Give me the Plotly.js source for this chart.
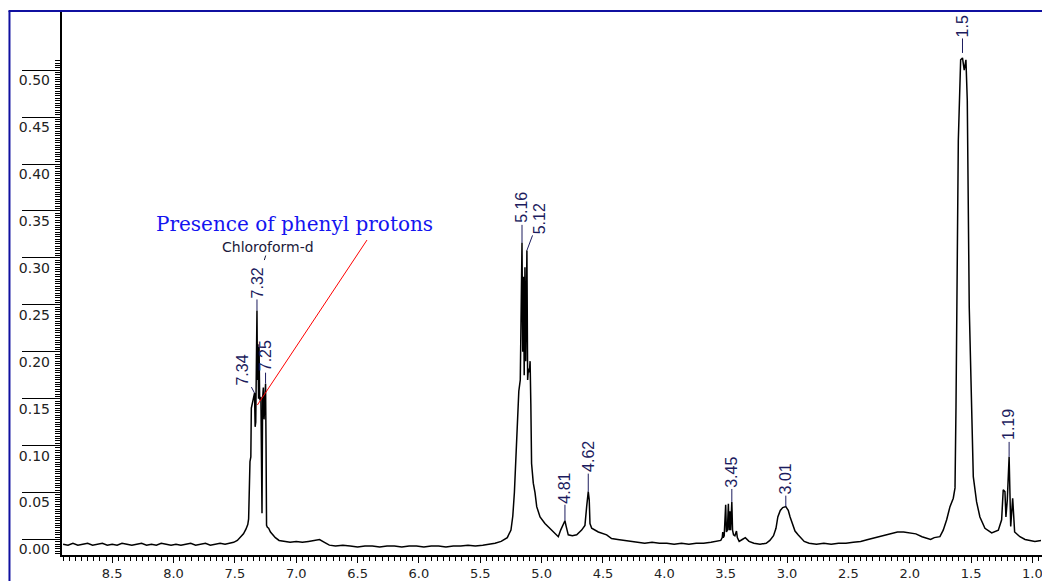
<!DOCTYPE html>
<html>
<head>
<meta charset="utf-8">
<script src="https://cdn.plot.ly/plotly-3.0.1.min.js"></script>
<style>
html,body{margin:0;padding:0;background:#fff;}
#chart{width:1042px;height:581px;}
</style>
</head>
<body>
<div id="chart"></div>
<script>
// ---- data (chemical shift in ppm, intensity) ----
const PPM = [
8.90,8.86,8.82,8.78,8.74,8.70,8.66,8.62,8.58,8.54,8.50,8.46,8.42,8.38,8.34,8.30,8.26,8.22,8.18,8.14,
8.10,8.06,8.02,7.98,7.94,7.90,7.86,7.82,7.78,7.74,7.70,7.66,7.62,7.58,7.54,7.51,7.48,7.45,7.43,7.41,
7.395,7.388,7.385,7.380,7.377,7.370,7.366,7.356,7.348,7.340,7.335,7.330,7.320,7.316,7.312,7.307,7.303,7.298,7.292,7.288,
7.284,7.279,7.274,7.268,7.262,7.250,7.246,7.242,7.235,7.225,7.21,7.19,7.17,7.14,7.10,7.05,7.00,6.95,6.90,6.85,
6.81,6.77,6.73,6.68,6.62,6.56,6.50,6.44,6.38,6.32,6.26,6.20,6.14,6.08,6.02,5.96,5.90,5.84,5.78,5.72,
5.66,5.60,5.54,5.48,5.42,5.38,5.33,5.28,5.25,5.235,5.222,5.212,5.198,5.186,5.174,5.160,5.154,5.148,5.142,5.136,
5.130,5.125,5.120,5.114,5.108,5.100,5.094,5.088,5.082,5.068,5.054,5.040,5.013,4.973,4.932,4.900,4.864,4.845,4.810,4.800,
4.783,4.750,4.714,4.674,4.647,4.633,4.620,4.612,4.606,4.592,4.538,4.470,4.430,4.38,4.33,4.28,4.22,4.16,4.10,4.04,
3.98,3.92,3.86,3.80,3.74,3.68,3.62,3.57,3.54,3.528,3.524,3.520,3.512,3.500,3.494,3.486,3.478,3.472,3.466,3.460,
3.450,3.444,3.436,3.425,3.412,3.405,3.39,3.365,3.34,3.31,3.27,3.22,3.17,3.14,3.11,3.09,3.075,3.055,3.035,3.010,
2.99,2.975,2.955,2.935,2.91,2.885,2.86,2.82,2.76,2.70,2.64,2.58,2.52,2.46,2.40,2.34,2.28,2.22,2.16,2.10,
2.05,2.00,1.95,1.90,1.86,1.83,1.80,1.754,1.727,1.699,1.672,1.645,1.631,1.623,1.604,1.585,1.570,1.556,1.542,1.531,
1.515,1.504,1.482,1.455,1.428,1.387,1.332,1.278,1.251,1.238,1.224,1.216,1.205,1.190,1.177,1.161,1.145,1.102,1.06,1.02,
0.98,0.93
];
const INTENSITY = [
-0.005,-0.006,-0.004,-0.006,-0.005,-0.004,-0.006,-0.005,-0.004,-0.006,-0.005,-0.006,-0.004,-0.005,-0.006,-0.005,-0.004,-0.006,-0.005,-0.006,
-0.004,-0.005,-0.006,-0.005,-0.006,-0.005,-0.004,-0.006,-0.005,-0.004,-0.006,-0.005,-0.004,-0.005,-0.004,-0.003,-0.001,0.003,0.006,0.011,
0.016,0.022,0.045,0.050,0.083,0.088,0.140,0.146,0.150,0.156,0.120,0.125,0.244,0.170,0.208,0.150,0.205,0.150,0.148,0.152,
0.030,0.028,0.150,0.162,0.128,0.166,0.100,0.015,0.013,0.012,0.008,0.005,0.002,-0.001,-0.002,-0.003,-0.002,-0.003,-0.002,-0.001,
0.000,-0.003,-0.006,-0.007,-0.006,-0.007,-0.008,-0.007,-0.007,-0.008,-0.007,-0.007,-0.008,-0.007,-0.007,-0.008,-0.007,-0.007,-0.008,-0.007,
-0.007,-0.006,-0.007,-0.006,-0.005,-0.004,-0.002,0.002,0.010,0.025,0.050,0.085,0.118,0.158,0.170,0.316,0.200,0.280,0.175,0.290,
0.190,0.298,0.308,0.170,0.182,0.178,0.190,0.145,0.081,0.060,0.050,0.035,0.024,0.017,0.012,0.008,0.003,0.010,0.020,0.014,
0.005,0.004,0.005,0.010,0.015,0.035,0.051,0.042,0.017,0.012,0.008,0.005,0.001,0.000,-0.001,-0.002,-0.003,-0.004,-0.003,-0.004,
-0.004,-0.005,-0.004,-0.005,-0.004,-0.004,-0.003,-0.002,-0.001,0.002,0.008,0.002,0.004,0.037,0.008,0.010,0.038,0.010,0.030,0.010,
0.040,0.010,0.005,0.004,0.009,0.002,-0.002,0.000,0.002,-0.002,-0.004,-0.005,-0.004,-0.001,0.004,0.012,0.024,0.031,0.034,0.035,
0.031,0.024,0.016,0.009,0.005,0.002,-0.002,-0.004,-0.005,-0.004,-0.005,-0.004,-0.004,-0.003,-0.002,0.000,0.002,0.004,0.006,0.008,
0.008,0.007,0.006,0.003,0.001,0.000,0.002,0.003,0.010,0.021,0.035,0.044,0.055,0.141,0.425,0.511,0.513,0.500,0.511,0.468,
0.248,0.175,0.067,0.040,0.024,0.012,0.007,0.010,0.021,0.053,0.051,0.024,0.042,0.088,0.014,0.044,0.008,0.003,0.000,-0.001,
-0.002,-0.001
];

// ---- axis ticks ----
const X_TICK_VALUES = [8.5,8.0,7.5,7.0,6.5,6.0,5.5,5.0,4.5,4.0,3.5,3.0,2.5,2.0,1.5,1.0];
const X_TICK_TEXT = ['8.5','8.0','7.5','7.0','6.5','6.0','5.5','5.0','4.5','4.0','3.5','3.0','2.5','2.0','1.5','1.0'];
const Y_TICK_VALUES = [0,0.05,0.10,0.15,0.20,0.25,0.30,0.35,0.40,0.45,0.50];
const Y_TICK_TEXT = ['0.00','0.05','0.10','0.15','0.20','0.25','0.30','0.35','0.40','0.45','0.50'];

// ---- peak labels ----
const PEAK_LABELS = ['7.34','7.32','7.25','5.16','5.12','4.81','4.62','3.45','3.01','1.19','1.5'];
const PEAK_PPM = [7.34,7.32,7.25,5.16,5.12,4.81,4.62,3.45,3.01,1.19,1.57];

// label placement (style, pixel offsets of label centre from the peak top)
const LABEL_AX = [-12,0,0,0,12,0,0,0,0,0,0];
const LABEL_AY = [-23,-28,-28,-35,-32,-33,-35,-30,-28,-32,-32];
const LABEL_STANDOFF = [0,0,0,0,0,0,0,0,0,0,5];

function heightAt(p){
  let best = 0, bd = Infinity;
  for (let i = 0; i < PPM.length; i++) {
    const d = Math.abs(PPM[i] - p);
    if (d < bd) { bd = d; best = i; }
  }
  return INTENSITY[best];
}

// minor tick marks of the intensity scale (every 0.0025, drawn up to 0.51 only)
const Y_MINOR_STEP = 0.0025;
const yMinorTicks = [];
for (let k = -6; k <= 204; k++) yMinorTicks.push(+(k * Y_MINOR_STEP).toFixed(4));

const LABEL_COLOR = '#1c1c5e';
const LABEL_FONT = {family:'"Liberation Sans Narrow","Arial Narrow","Liberation Sans",sans-serif', size:16, color:LABEL_COLOR};

const annotations = PEAK_LABELS.map((t,i)=>({
  x: PEAK_PPM[i], y: heightAt(PEAK_PPM[i]), xref:'x', yref:'y',
  text: t, textangle: -90, showarrow: true, arrowhead: 0, arrowwidth: 1,
  arrowcolor: LABEL_COLOR, ax: LABEL_AX[i], ay: LABEL_AY[i], standoff: LABEL_STANDOFF[i],
  font: LABEL_FONT, borderpad: 1
}));

annotations.push({
  x: 7.26, y: 0.2977, xref:'x', yref:'y', text:'Chloroform-d',
  showarrow:true, arrowhead:0, arrowwidth:1, arrowcolor:'#1a1a3a', ax:4, ay:-13,
  font:{family:'"DejaVu Sans",sans-serif', size:14, color:'#1a1a3a'}, borderpad:0
});
annotations.push({
  x: 7.014, y: 0.336, xref:'x', yref:'y', text:'Presence of phenyl protons',
  showarrow:false, xanchor:'center', yanchor:'middle',
  font:{family:'"DejaVu Serif","Liberation Serif",serif', size:20, color:'#1414f0'}
});

const spectrum = {
  x: PPM, y: INTENSITY, type:'scatter', mode:'lines',
  line:{color:'#000000', width:1.5}, hoverinfo:'skip', showlegend:false
};
const labelCarrier = {
  x:[X_TICK_VALUES[0]], y:[Y_TICK_VALUES[0]], yaxis:'y2', type:'scatter', mode:'markers',
  marker:{opacity:0}, hoverinfo:'skip', showlegend:false
};

const YR = [-0.0165, 0.563];
const tickFont = {family:'"DejaVu Sans",sans-serif', size:14, color:'#222222'};
const xTickFont = {family:'"DejaVu Sans",sans-serif', size:13, color:'#222222'};

const layout = {
  width:1042, height:581,
  margin:{l:62, r:0, t:11, b:26, pad:0},
  paper_bgcolor:'#ffffff', plot_bgcolor:'#ffffff',
  showlegend:false,
  xaxis:{
    range:[8.909, 0.922], showgrid:false, zeroline:false,
    showline:true, linecolor:'#000', linewidth:2,
    tickmode:'array', tickvals:X_TICK_VALUES, ticktext:X_TICK_TEXT,
    ticks:'outside', ticklen:6, tickwidth:1, tickcolor:'#000',
    minor:{tickmode:'linear', tick0:0, dtick:0.05, ticks:'outside', ticklen:4, tickwidth:1, tickcolor:'#000', showgrid:false},
    tickfont:xTickFont, ticklabelstandoff:-1, ticklabeloverflow:'allow'
  },
  yaxis:{
    range:YR, showgrid:false, zeroline:false,
    showline:true, linecolor:'#000', linewidth:2,
    tickmode:'array', tickvals:Y_TICK_VALUES, ticktext:Y_TICK_TEXT,
    ticks:'outside', ticklen:38, tickwidth:1, tickcolor:'#000',
    showticklabels:false,
    minor:{tickmode:'array', tickvals:yMinorTicks, ticks:'outside', ticklen:5, tickwidth:1, tickcolor:'#000', showgrid:false}
  },
  yaxis2:{
    overlaying:'y', side:'left', range:YR, showgrid:false, zeroline:false, showline:false,
    tickmode:'array', tickvals:Y_TICK_VALUES, ticktext:Y_TICK_TEXT,
    ticks:'', tickfont:tickFont, ticklabelshift:10, ticklabelstandoff:11
  },
  shapes:[
    {type:'line', xref:'x', yref:'y', x0:6.4234, y0:0.319, x1:7.3166, y1:0.1433,
     line:{color:'#ff0000', width:1}},
    {type:'line', xref:'paper', yref:'paper', x0:-0.0536, x1:-0.0536, y0:1.0, y1:-0.1,
     line:{color:'#1010a0', width:2}},
    {type:'line', xref:'paper', yref:'paper', x0:-0.0546, x1:1.01, y0:1.0, y1:1.0,
     line:{color:'#1010a0', width:2}}
  ],
  annotations: annotations
};

Plotly.newPlot('chart', [spectrum, labelCarrier], layout, {displayModeBar:false, staticPlot:true});
</script>
</body>
</html>
